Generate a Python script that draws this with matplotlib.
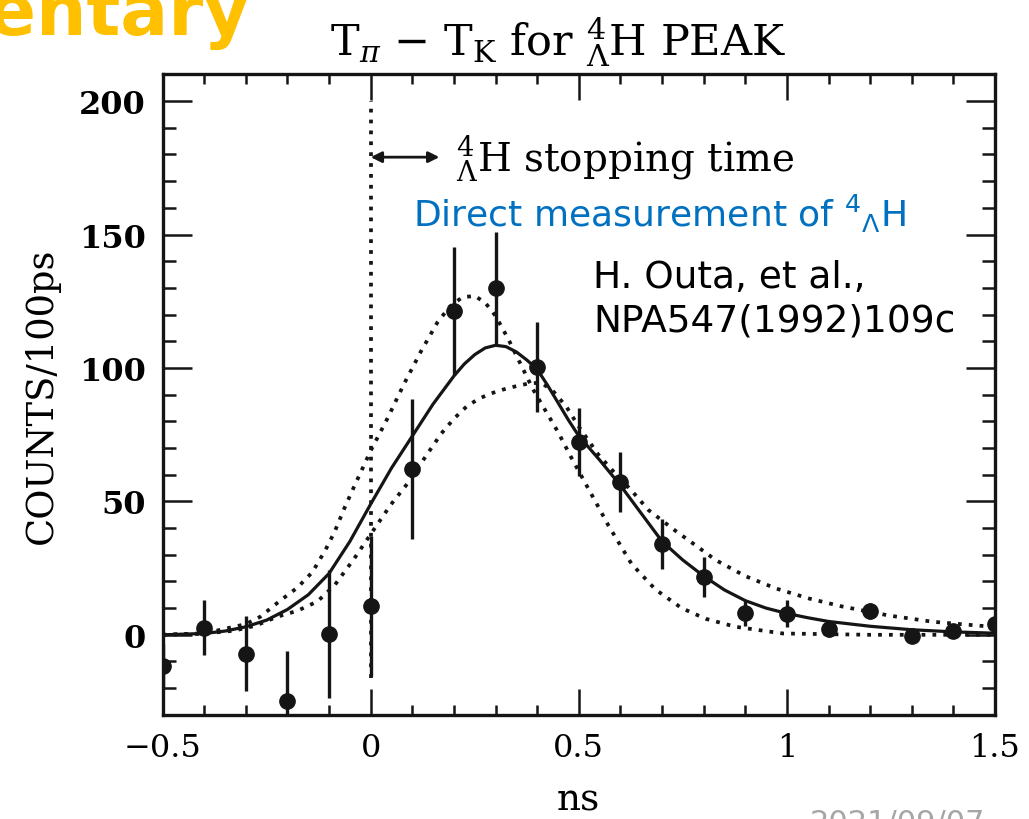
import matplotlib.pyplot as plt
from matplotlib.ticker import MultipleLocator

# data points (T_pi - T_K, counts per 100 ps)
t_ns = [-0.5, -0.4, -0.3, -0.2, -0.1, 0.0, 0.1, 0.2, 0.3, 0.4, 0.5,
        0.6, 0.7, 0.8, 0.9, 1.0, 1.1, 1.2, 1.3, 1.4, 1.5]
counts = [-11.6, 2.6, -7.1, -24.7, 0.4, 10.9, 62.2, 121.3, 130.0, 100.4, 72.3,
          57.3, 34.1, 21.7, 8.2, 7.9, 2.2, 9.0, -0.4, 1.5, 4.1]
count_err = [8, 10.3, 14, 18.7, 24, 26.2, 26.2, 24, 21, 17, 12.7,
             11.2, 9.4, 7.5, 5, 5, 3, 3, 2.5, 2, 2]

# best fit (solid)
fit_x = [-0.5, -0.4, -0.35, -0.3, -0.25, -0.2, -0.15, -0.1, -0.05, 0.0, 0.05,
         0.1, 0.15, 0.2, 0.225, 0.25, 0.275, 0.3, 0.325, 0.35, 0.375, 0.4,
         0.425, 0.45, 0.475, 0.5, 0.55, 0.6, 0.65, 0.7, 0.75, 0.8, 0.85, 0.9,
         0.95, 1.0, 1.05, 1.1, 1.2, 1.3, 1.4, 1.5]
fit_y = [0, 0.5, 1.4, 3, 5.5, 9.5, 15, 23, 35, 49, 62.5,
         74.5, 86.5, 97, 101.5, 105, 107.5, 108.5, 108, 106, 103, 99.5,
         93.5, 87, 80.5, 74.5, 65.5, 56, 45.5, 35, 28, 22, 16.8, 12.8,
         10, 8, 6.4, 5, 3.2, 1.9, 1.1, 0.6]

# shorter lifetime (dotted, high peak)
short_x = [-0.5, -0.4, -0.3, -0.265, -0.22, -0.176, -0.14, -0.108, -0.087,
           -0.063, -0.04, 0.0, 0.04, 0.08, 0.12, 0.16, 0.19, 0.22, 0.25,
           0.275, 0.3, 0.33, 0.36, 0.39, 0.42, 0.45, 0.48, 0.515, 0.545,
           0.571, 0.6, 0.627, 0.684, 0.747, 0.805, 0.877, 0.99, 1.2, 1.5]
short_y = [0, 0.5, 4, 6.8, 12.5, 17.7, 23.5, 32, 38.5,
           47.5, 55.5, 69, 81, 94, 106, 117, 123, 126.5, 127,
           124.5, 119.5, 111, 101.5, 92, 84, 76, 67, 57, 48.5,
           41, 33.5, 26.5, 17, 10, 6, 3, 0.5, 0, 0]

# longer lifetime (dotted, low peak)
long_x = [-0.5, -0.4, -0.33, -0.277, -0.224, -0.176, -0.128, -0.087, -0.039,
          0.01, 0.048, 0.09, 0.137, 0.17, 0.2, 0.23, 0.26, 0.29, 0.32, 0.35,
          0.38, 0.41, 0.44, 0.47, 0.5, 0.547, 0.59, 0.627, 0.667, 0.732, 0.78,
          0.829, 0.9, 0.973, 1.053, 1.133, 1.246, 1.35, 1.463, 1.5]
long_y = [0, 0.5, 1.5, 3.4, 6.8, 9, 12.5, 18.5, 28.7,
          40, 48.7, 57, 68, 75.5, 81, 85.5, 88.5, 90.5, 92, 93.2,
          94.2, 94.5, 91, 85.5, 78, 67.5, 60, 54, 46.8, 39, 33.6,
          28, 22, 17.4, 13.6, 10.6, 7.2, 4.9, 3.4, 3]

xticks = [-0.5, 0, 0.5, 1, 1.5]
xtick_labels = ["\u22120.5", "0", "0.5", "1", "1.5"]
yticks = [0, 50, 100, 150, 200]

stop_x = 0.0
stop_arrow_end = 0.165
stop_y = 179

plt.rcParams['font.family'] = 'DejaVu Serif'
plt.rcParams['mathtext.fontset'] = 'dejavuserif'

fig = plt.figure(figsize=(10.29, 8.2), dpi=100)
ax = fig.add_axes([0.158, 0.127, 0.809, 0.781])

ink = '#151515'
dots = (0, (1, 1.9))

# stopping time marker at t=0
ax.vlines(stop_x, -16, 200, colors=ink, lw=2.7, linestyles=dots, zorder=1)

ax.plot(short_x, short_y, color=ink, lw=2.7, ls=dots, zorder=2)
ax.plot(long_x, long_y, color=ink, lw=2.7, ls=dots, zorder=2)
ax.plot(fit_x, fit_y, color=ink, lw=2.3, zorder=3)

ax.errorbar(t_ns, counts, yerr=count_err, fmt='o', ms=11, color=ink,
            elinewidth=2.4, capsize=0, zorder=4)

ax.annotate('', xy=(stop_x, stop_y), xytext=(stop_arrow_end, stop_y),
            arrowprops=dict(arrowstyle='<|-|>', color=ink, lw=2,
                            mutation_scale=16, shrinkA=0, shrinkB=0))
ax.text(0.205, stop_y, r'$^4_\Lambda$H stopping time', fontsize=28,
        va='center', ha='left', math_fontfamily='dejavuserif')

ax.text(0.101, 158, r'Direct measurement of $^4{}_\Lambda$H', fontsize=26,
        family='DejaVu Sans', math_fontfamily='dejavusans', color='#0070C0',
        va='center', ha='left')
ax.text(0.535, 126, 'H. Outa, et al.,\nNPA547(1992)109c', fontsize=27,
        family='DejaVu Sans', color='black', va='center', ha='left',
        linespacing=1.25)

ax.set_xlim(-0.5, 1.5)
ax.set_ylim(-30, 210)
ax.set_xticks(xticks)
ax.set_xticklabels(xtick_labels)
ax.set_yticks(yticks)
ax.xaxis.set_minor_locator(MultipleLocator(0.1))
ax.yaxis.set_minor_locator(MultipleLocator(10))

ax.tick_params(which='both', direction='in', top=True, right=True,
               width=1.8, color=ink)
ax.tick_params(axis='x', which='major', length=19, pad=12, labelsize=23)
ax.tick_params(axis='x', which='minor', length=7)
ax.tick_params(axis='y', which='major', length=21, pad=12, labelsize=23)
ax.tick_params(axis='y', which='minor', length=9.5)
for lab in ax.get_yticklabels():
    lab.set_fontweight('bold')
for sp in ax.spines.values():
    sp.set_linewidth(2.4)
    sp.set_color(ink)

ax.set_xlabel('ns', fontsize=27, labelpad=14)
ax.set_ylabel('COUNTS/100ps', fontsize=26.5, labelpad=14)
ax.set_title(r'T$_\pi$ $-$ T$_\mathrm{K}$ for $^4_\Lambda$H PEAK',
             fontsize=31, pad=14, x=0.475)

# bits of the surrounding slide (cut off at the edges, as in the slide)
fig.text(-0.012, 1 - 35 / 820, 'entary', fontsize=51, fontweight='bold',
         family='DejaVu Sans', color='#FFC000', va='baseline')
fig.text(810 / 1029, -0.015, '2021/09/07', fontsize=22, family='DejaVu Sans',
         color='#A6A6A6', va='baseline')

fig.savefig('out.png', dpi=100)
